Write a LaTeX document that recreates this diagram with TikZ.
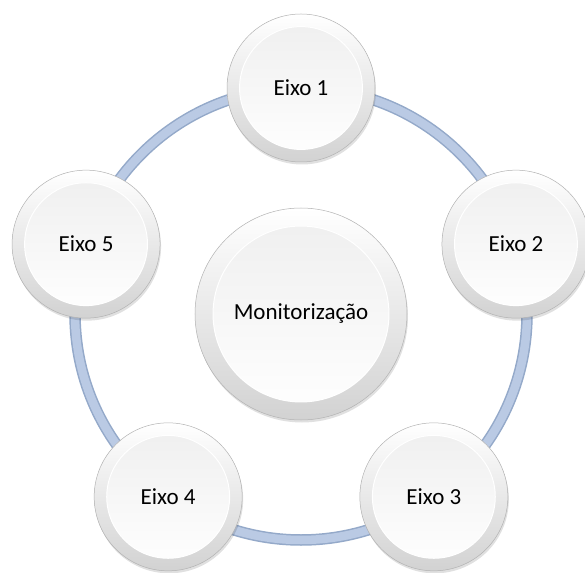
\documentclass[tikz,border=0pt]{standalone}
\usepackage{fontspec}
\setmainfont{Carlito}
\usetikzlibrary{shadows,backgrounds}
\definecolor{ringfill}{HTML}{BACAE4}
\definecolor{ringedge}{HTML}{94A9C9}
\definecolor{rimdark}{HTML}{D2D2D2}
\tikzset{
  ball/.style={circle,minimum size=#1,inner sep=0pt,draw=gray!60,line width=0.5pt,
    top color=white,bottom color=rimdark,
    drop shadow={shadow xshift=1pt,shadow yshift=-2.5pt,fill=black,opacity=0.12},
    font=\fontsize{23}{28}\selectfont,
    path picture={\shade[top color=gray!13,bottom color=white,draw=white,line width=1pt]
      (path picture bounding box.center) circle ({0.415*#1});}},
  ring/.style={line width=11.5pt,draw=ringedge},
  ringin/.style={line width=8.5pt,draw=ringfill}
}
\begin{document}
\begin{tikzpicture}[x=1pt,y=1pt]
  \useasboundingbox (-301,-258) rectangle (284,314);
  \node[ball=212pt] (mon) at (0,0) {Monitorização};
  \foreach \i/\ang in {1/90,2/18,3/-54,4/-126,5/162}
    \node[ball=148pt] (e\i) at (\ang:226) {Eixo \i};
  % the band that joins the axes
  \begin{scope}[on background layer]
    \draw[ring] (mon.center) circle (226);
    \draw[ringin] (mon.center) circle (226);
  \end{scope}
\end{tikzpicture}
\end{document}
